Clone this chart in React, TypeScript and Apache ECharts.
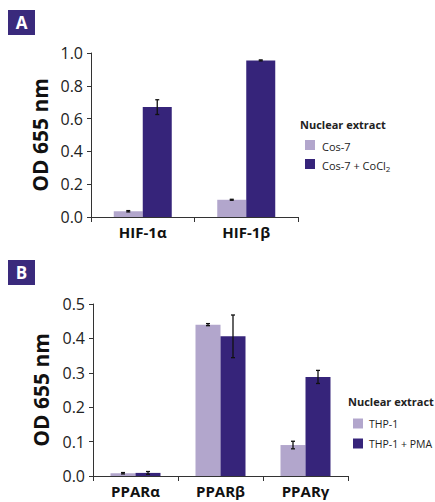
import React, { useEffect, useRef } from "react";
import * as echarts from "echarts";

const categoriesA = ["HIF-1α", "HIF-1β"];
const cos7 = [0.035, 0.105];
const cos7Err = [0.004, 0.003];
const cos7CoCl2 = [0.67, 0.955];
const cos7CoCl2Err = [0.045, 0.003];

const categoriesB = ["PPARα", "PPARβ", "PPARγ"];
const thp1 = [0.008, 0.44, 0.09];
const thp1Err = [0.002, 0.003, 0.011];
const thp1Pma = [0.009, 0.406, 0.288];
const thp1PmaErr = [0.004, 0.062, 0.019];

const LIGHT = "#b2a6cc";
const DARK = "#36247a";
const FONT = "'Open Sans', 'Noto Sans', sans-serif";

function errSeries(vals: number[], errs: number[], axis: number, offset: number) {
  return {
    type: "custom",
    xAxisIndex: axis,
    yAxisIndex: axis,
    z: 5,
    silent: true,
    data: vals.map((v, i) => [i, v, errs[i]]),
    encode: { x: 0, y: 1 },
    renderItem: (params: any, api: any) => {
      const x = api.value(0);
      const y = api.value(1);
      const e = api.value(2);
      const hi = api.coord([x, y + e]);
      const lo = api.coord([x, y - e]);
      const cx = hi[0] + offset;
      const cap = 2;
      const style = { stroke: "#111", lineWidth: 1.3 };
      return {
        type: "group",
        children: [
          { type: "line", shape: { x1: cx, y1: hi[1], x2: cx, y2: lo[1] }, style },
          { type: "line", shape: { x1: cx - cap, y1: hi[1], x2: cx + cap, y2: hi[1] }, style },
          { type: "line", shape: { x1: cx - cap, y1: lo[1], x2: cx + cap, y2: lo[1] }, style },
        ],
      };
    },
  };
}

function yAxis(grid: number, max: number, interval: number) {
  return {
    type: "value",
    gridIndex: grid,
    min: 0,
    max,
    interval,
    name: "OD 655 nm",
    nameLocation: "middle",
    nameRotate: 90,
    nameGap: 41,
    nameTextStyle: { fontFamily: FONT, fontWeight: "bold", fontSize: 21, color: "#111" },
    axisLine: { show: true, lineStyle: { color: "#333", width: 1 } },
    axisTick: { show: true, length: 4, lineStyle: { color: "#333" } },
    splitLine: { show: false },
    axisLabel: {
      fontFamily: FONT,
      fontSize: 16,
      color: "#222",
      margin: 8,
      formatter: (v: number) => v.toFixed(1),
    },
  };
}

function xAxis(grid: number, cats: string[]) {
  return {
    type: "category",
    gridIndex: grid,
    data: cats,
    axisLine: { show: true, lineStyle: { color: "#333", width: 1 } },
    axisTick: { show: true, length: 5, lineStyle: { color: "#333" } },
    axisLabel: { fontFamily: FONT, fontWeight: "bold", fontSize: 15, color: "#111", margin: 7 },
  };
}

function badge(letter: string, y: number) {
  return {
    type: "group",
    children: [
      { type: "rect", shape: { x: 8, y, width: 27, height: 25 }, style: { fill: "#3a2a7c" } },
      {
        type: "text",
        x: 21.5,
        y: y + 12.5,
        style: {
          text: letter,
          fill: "#fff",
          font: `bold 17px ${FONT}`,
          align: "center",
          verticalAlign: "middle",
        },
      },
    ],
  };
}

export default function App() {
  const ref = useRef<HTMLDivElement>(null);
  useEffect(() => {
    document.body.style.margin = "0";
    const chart = echarts.init(ref.current!, null, { renderer: "svg" });
    const barA = 29;
    const barB = 25;
    chart.setOption({
      animation: false,
      backgroundColor: "#fff",
      grid: [
        { left: 91, top: 53, width: 207, height: 164 },
        { left: 93, top: 304, width: 255, height: 172 },
      ],
      xAxis: [xAxis(0, categoriesA), xAxis(1, categoriesB)],
      yAxis: [yAxis(0, 1, 0.2), yAxis(1, 0.5, 0.1)],
      legend: [
        {
          left: 300,
          top: 135,
          orient: "vertical",
          itemWidth: 10,
          itemHeight: 10,
          itemGap: 7,
          icon: "rect",
          data: ["Cos-7", "Cos-7 + CoCl2"],
          formatter: (n: string) => (n === "Cos-7 + CoCl2" ? "Cos-7 + CoCl{sub|2}" : n),
          textStyle: {
            fontFamily: FONT,
            fontSize: 11,
            color: "#222",
            padding: [3, 0, 0, 2],
            rich: { sub: { fontFamily: FONT, fontSize: 8, color: "#222", verticalAlign: "bottom", padding: [6, 0, 0, 0] } },
          },
        },
        {
          left: 348,
          top: 413,
          orient: "vertical",
          itemWidth: 10,
          itemHeight: 10,
          itemGap: 9,
          icon: "rect",
          data: ["THP-1", "THP-1 + PMA"],
          textStyle: { fontFamily: FONT, fontSize: 10.5, color: "#222", padding: [3, 0, 0, 1] },
        },
      ],
      graphic: [
        badge("A", 10),
        badge("B", 260),
        {
          type: "text",
          left: 300,
          top: 119,
          style: { text: "Nuclear extract", font: `bold 11px ${FONT}`, fill: "#222" },
        },
        {
          type: "text",
          left: 348,
          top: 396,
          style: { text: "Nuclear extract", font: `bold 11px ${FONT}`, fill: "#222" },
        },
      ],
      series: [
        { name: "Cos-7", type: "bar", xAxisIndex: 0, yAxisIndex: 0, data: cos7, barWidth: barA, barGap: "0%", itemStyle: { color: LIGHT } },
        { name: "Cos-7 + CoCl2", type: "bar", xAxisIndex: 0, yAxisIndex: 0, data: cos7CoCl2, barWidth: barA, barGap: "0%", itemStyle: { color: DARK } },
        { name: "THP-1", type: "bar", xAxisIndex: 1, yAxisIndex: 1, data: thp1, barWidth: barB, barGap: "0%", itemStyle: { color: LIGHT } },
        { name: "THP-1 + PMA", type: "bar", xAxisIndex: 1, yAxisIndex: 1, data: thp1Pma, barWidth: barB, barGap: "0%", itemStyle: { color: DARK } },
        errSeries(cos7, cos7Err, 0, -barA / 2),
        errSeries(cos7CoCl2, cos7CoCl2Err, 0, barA / 2),
        errSeries(thp1, thp1Err, 1, -barB / 2),
        errSeries(thp1Pma, thp1PmaErr, 1, barB / 2),
      ],
    });
    return () => chart.dispose();
  }, []);
  return <div ref={ref} style={{ width: 435, height: 502 }} />;
}
